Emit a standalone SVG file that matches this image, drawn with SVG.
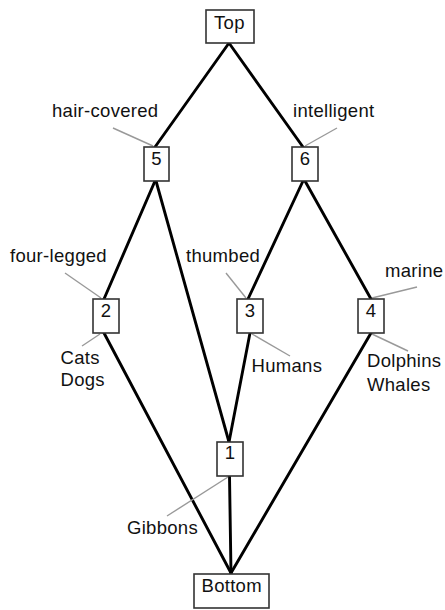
<svg xmlns="http://www.w3.org/2000/svg" width="445" height="610" viewBox="0 0 445 610">
  <style>
    text { font-family: "Liberation Sans", Arial, sans-serif; font-size: 18.5px; fill: #111; letter-spacing: 0.3px; }
    .box { fill: #fff; stroke: #333; stroke-width: 1.6; }
    .edge { stroke: #000; stroke-width: 2.9; fill: none; stroke-linecap: round; }
    .leader { stroke: #999; stroke-width: 1.4; fill: none; }
    .num { text-anchor: middle; letter-spacing: 0; }
  </style>
  <rect width="445" height="610" fill="#fff"/>

  <!-- lattice edges -->
  <g id="edges">
    <line class="edge" x1="229" y1="43" x2="155" y2="147"/>
    <line class="edge" x1="229" y1="43" x2="303" y2="147"/>
    <line class="edge" x1="155" y1="181" x2="104" y2="299"/>
    <line class="edge" x1="156" y1="181" x2="229" y2="442"/>
    <line class="edge" x1="303" y1="181" x2="248" y2="299"/>
    <line class="edge" x1="305" y1="181" x2="371" y2="299"/>
    <line class="edge" x1="250" y1="333" x2="229" y2="442"/>
    <line class="edge" x1="104" y1="333" x2="231" y2="573"/>
    <line class="edge" x1="371" y1="333" x2="231" y2="573"/>
    <line class="edge" x1="229.5" y1="476" x2="231" y2="573"/>
  </g>

  <!-- label leaders -->
  <g id="leaders">
    <line class="leader" x1="113" y1="128" x2="153" y2="146"/>
    <line class="leader" x1="337" y1="128" x2="305" y2="146"/>
    <line class="leader" x1="65" y1="273" x2="101" y2="298"/>
    <line class="leader" x1="82" y1="346" x2="100" y2="334"/>
    <line class="leader" x1="226" y1="273" x2="246" y2="298"/>
    <line class="leader" x1="417" y1="287" x2="372" y2="298"/>
    <line class="leader" x1="290" y1="356" x2="252" y2="334"/>
    <line class="leader" x1="408" y1="351" x2="372" y2="334"/>
    <line class="leader" x1="167" y1="516" x2="228" y2="477"/>
  </g>

  <g id="node-top">
    <rect class="box" x="206" y="10" width="48" height="33"/>
    <text x="214" y="28.5">Top</text>
  </g>
  <g id="node-5">
    <rect class="box" x="144" y="147" width="25" height="34"/>
    <text class="num" x="156.5" y="165">5</text>
    <text x="52" y="117">hair-covered</text>
  </g>
  <g id="node-6">
    <rect class="box" x="292" y="147" width="26" height="34"/>
    <text class="num" x="305" y="165">6</text>
    <text x="293" y="117">intelligent</text>
  </g>
  <g id="node-2">
    <rect class="box" x="93" y="299" width="26" height="34"/>
    <text class="num" x="106" y="317">2</text>
    <text x="10" y="261.5">four-legged</text>
    <text x="60.5" y="363.5">Cats</text>
    <text x="60.5" y="386">Dogs</text>
  </g>
  <g id="node-3">
    <rect class="box" x="237" y="299" width="26" height="34"/>
    <text class="num" x="250" y="317">3</text>
    <text x="186" y="261.5">thumbed</text>
    <text x="251.5" y="371.5">Humans</text>
  </g>
  <g id="node-4">
    <rect class="box" x="358" y="299" width="26" height="34"/>
    <text class="num" x="371" y="317">4</text>
    <text x="385" y="276.5">marine</text>
    <text x="367" y="367">Dolphins</text>
    <text x="367" y="390.5">Whales</text>
  </g>
  <g id="node-1">
    <rect class="box" x="217" y="442" width="26" height="34"/>
    <text class="num" x="230" y="459">1</text>
    <text x="127" y="534">Gibbons</text>
  </g>
  <g id="node-bottom">
    <rect class="box" x="194" y="574" width="75" height="34"/>
    <text x="201.5" y="591.5">Bottom</text>
  </g>
</svg>
